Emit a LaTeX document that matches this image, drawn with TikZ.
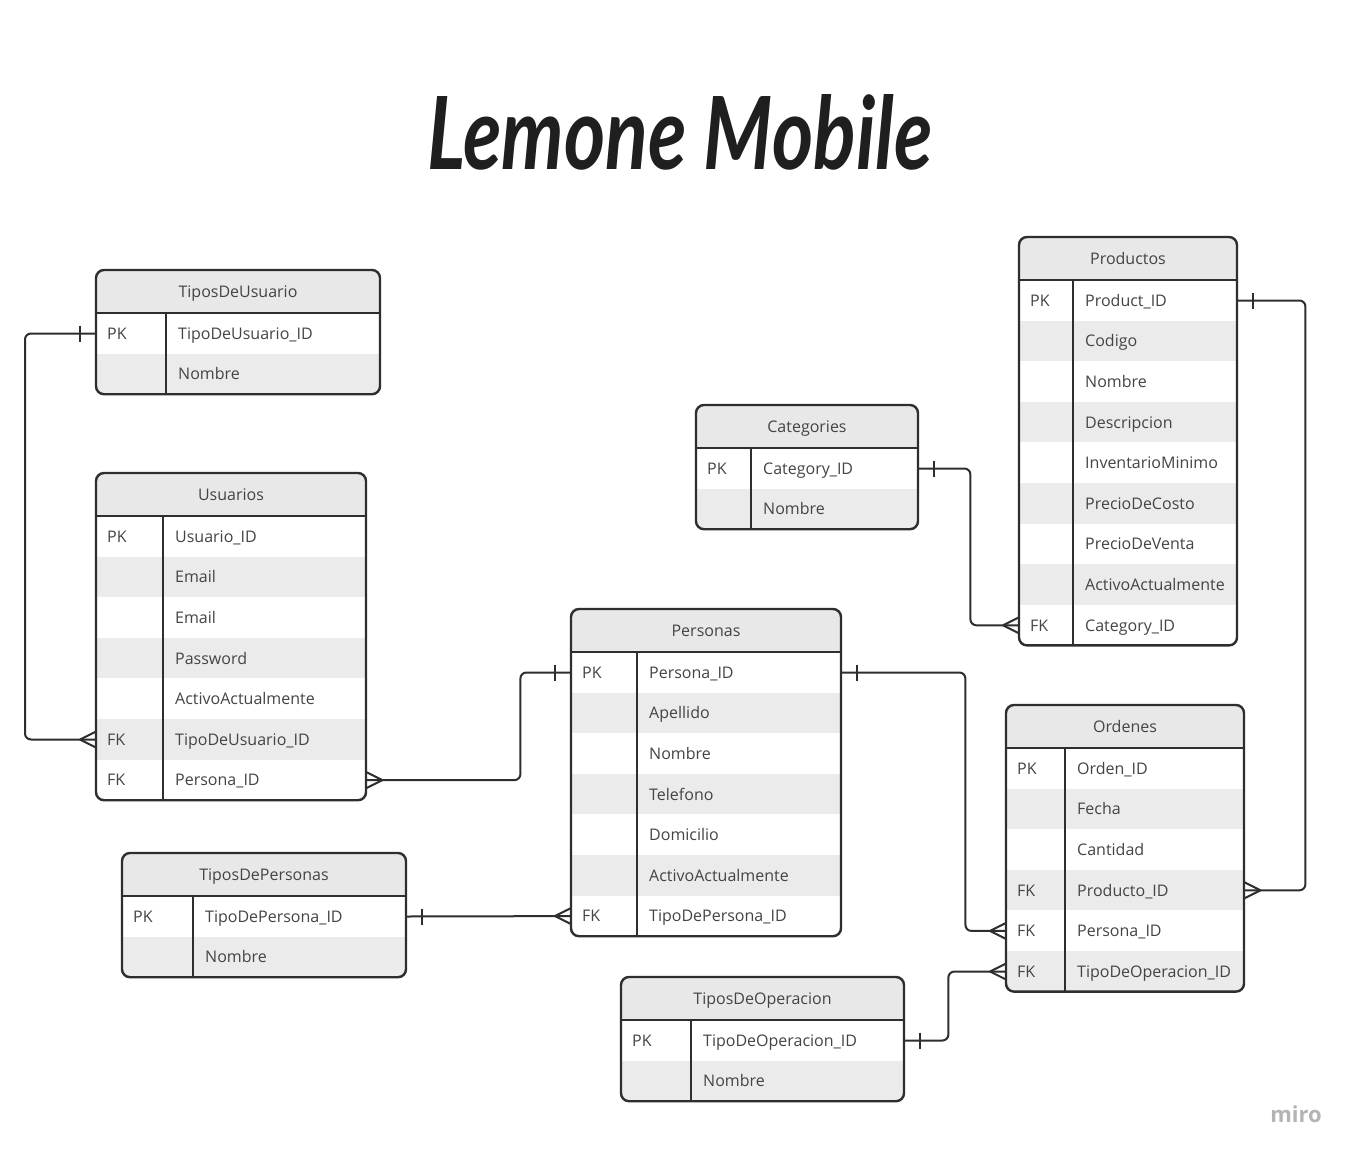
\documentclass[tikz,border=0pt]{standalone}
\usepackage{fontspec}
\setmainfont{Open Sans}
\newfontfamily\titlefont{Lato}
\usetikzlibrary{calc}
\definecolor{txt}{HTML}{444444}
\definecolor{ln}{HTML}{2E2E2E}
\definecolor{hdrgray}{HTML}{E8E8E8}
\definecolor{rowgray}{HTML}{EBEBEB}
\definecolor{mirogray}{HTML}{B4B4B4}
\tikzset{
  boxline/.style={draw=ln, line width=2.4pt},
  conn/.style={draw=ln, line width=2pt, rounded corners=6pt},
  tipline/.style={draw=ln, line width=2pt},
  cell/.style={inner sep=0pt, text=txt, font=\fontsize{16}{19}\selectfont, anchor=base west},
  hdrtext/.style={inner sep=0pt, text=txt, font=\fontsize{16}{19}\selectfont, anchor=base},
  rowbox/.style={inner sep=0pt, minimum height=40.6pt, anchor=north west, draw=none},
}
% #1 name, #2 left, #3 top, #4 width, #5 divider x, #6 title, #7 rows
\newcommand\erdtable[7]{%
  \foreach[count=\n] \rk/\rf/\rc in {#7} {\xdef\nrows{\n}}%
  \pgfmathsetmacro\tbot{#3+43+\nrows*40.6}%
  \begin{scope}
    \clip[rounded corners=8pt] (#2,-#3) rectangle (#2+#4,-\tbot);
    \fill[hdrgray] (#2,-#3) rectangle (#2+#4,-#3-43);
    \foreach[count=\n] \rk/\rf/\rc in {#7} {
      \fill[fill=\rc] (#2,{-#3-43-(\n-1)*40.6}) rectangle (#2+#4,{-#3-43-\n*40.6});
    }
  \end{scope}
  \draw[boxline, rounded corners=8pt] (#2,-#3) rectangle (#2+#4,-\tbot);
  \draw[boxline] (#2,-#3-43) -- (#2+#4,-#3-43);
  \draw[boxline] (#5,-#3-43) -- (#5,-\tbot);
  \node[hdrtext] (#1) at (#2+#4/2,-#3-21.5-6) {#6};
  \foreach[count=\n] \rk/\rf/\rc in {#7} {
    \node[rowbox, minimum width=#4pt] (#1-\n) at (#2,{-#3-43-(\n-1)*40.6}) {};
    \node[cell] (#1-\n-k) at (#2+11,{-#3-43-(\n-0.5)*40.6-6}) {\rk};
    \node[cell] (#1-\n-f) at (#5+12,{-#3-43-(\n-0.5)*40.6-6}) {\rf};
  }%
}
\newcommand\crowL[1]{\draw[tipline] ($(#1)+(-16,0)$) -- ($(#1)+(0,8)$) ($(#1)+(-16,0)$) -- ($(#1)+(0,-8)$);}
\newcommand\crowR[1]{\draw[tipline] ($(#1)+(16,0)$) -- ($(#1)+(0,8)$) ($(#1)+(16,0)$) -- ($(#1)+(0,-8)$);}
\newcommand\barL[1]{\draw[tipline] ($(#1)+(-16,8)$) -- ($(#1)+(-16,-8)$);}
\newcommand\barR[1]{\draw[tipline] ($(#1)+(16,8)$) -- ($(#1)+(16,-8)$);}
\begin{document}
\begin{tikzpicture}[x=1pt,y=1pt]
\useasboundingbox (0,0) rectangle (1354,-1153);
\fill[white] (0,0) rectangle (1354,-1153);

\node[inner sep=0pt, text=black!88] (title) at (680,-132.5)
  {\resizebox{505pt}{75pt}{\titlefont\bfseries\itshape Lemone Mobile}};

\erdtable{tu}{96}{270}{284}{166}{TiposDeUsuario}{PK/TipoDeUsuario\_ID/white, {}/Nombre/rowgray}
\erdtable{usr}{96}{473}{270}{163}{Usuarios}{PK/Usuario\_ID/white, {}/Email/rowgray, {}/Email/white, {}/Password/rowgray, {}/ActivoActualmente/white, FK/TipoDeUsuario\_ID/rowgray, FK/Persona\_ID/white}
\erdtable{tp}{122}{853}{284}{193}{TiposDePersonas}{PK/TipoDePersona\_ID/white, {}/Nombre/rowgray}
\erdtable{per}{571}{609}{270}{637}{Personas}{PK/Persona\_ID/white, {}/Apellido/rowgray, {}/Nombre/white, {}/Telefono/rowgray, {}/Domicilio/white, {}/ActivoActualmente/rowgray, FK/TipoDePersona\_ID/white}
\erdtable{cat}{696}{405}{222}{751}{Categories}{PK/Category\_ID/white, {}/Nombre/rowgray}
\erdtable{prod}{1019}{237}{218}{1073}{Productos}{PK/Product\_ID/white, {}/Codigo/rowgray, {}/Nombre/white, {}/Descripcion/rowgray, {}/InventarioMinimo/white, {}/PrecioDeCosto/rowgray, {}/PrecioDeVenta/white, {}/ActivoActualmente/rowgray, FK/Category\_ID/white}
\erdtable{ord}{1006}{705}{238}{1065}{Ordenes}{PK/Orden\_ID/white, {}/Fecha/rowgray, {}/Cantidad/white, FK/Producto\_ID/rowgray, FK/Persona\_ID/white, FK/TipoDeOperacion\_ID/rowgray}
\erdtable{tdo}{621}{977}{283}{691}{TiposDeOperacion}{PK/TipoDeOperacion\_ID/white, {}/Nombre/rowgray}

% connectors
\draw[conn] (tu-1.west) -- ++(-71,0) |- (usr-6.west);
\barL{tu-1.west} \crowL{usr-6.west}
\draw[conn] (usr-7.east) -- ++(154,0) |- (per-1.west);
\crowR{usr-7.east} \barL{per-1.west}
\draw[conn] (tp-1.east) -- (per-7.west);
\barR{tp-1.east} \crowL{per-7.west}
\draw[conn] (cat-1.east) -- ++(52,0) |- (prod-9.west);
\barR{cat-1.east} \crowL{prod-9.west}
\draw[conn] (per-1.east) -- ++(124,0) |- (ord-5.west);
\barR{per-1.east} \crowL{ord-5.west}
\draw[conn] (prod-1.east) -- ++(68,0) |- (ord-4.east);
\barR{prod-1.east} \crowR{ord-4.east}
\draw[conn] (tdo-1.east) -- ++(44,0) |- (ord-6.west);
\barR{tdo-1.east} \crowL{ord-6.west}

\node[anchor=base east, inner sep=0pt, text=mirogray, font=\bfseries\fontsize{22}{26}\selectfont] (miro) at (1322,-1122) {miro};
\end{tikzpicture}
\end{document}
